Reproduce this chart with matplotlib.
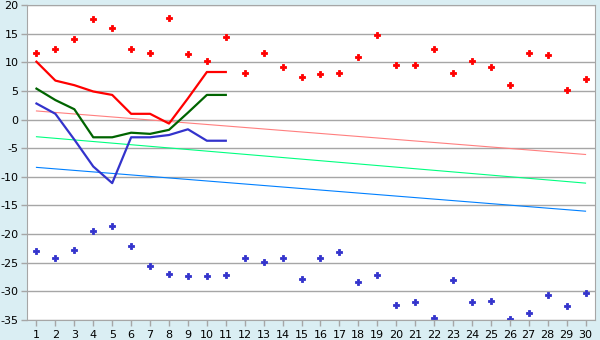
import numpy as np
import matplotlib
matplotlib.use("Agg")
import matplotlib.pyplot as plt

plt.rcParams['axes.unicode_minus'] = False

# categories 1..30
days = list(range(1, 31))

# scatter series (red above, blue below)
red_pts = [11.6, 12.4, 14.0, 17.5, 15.9, 12.3, 11.6, 17.8, 11.4, 10.2,
           14.4, 8.1, 11.7, 9.1, 7.4, 7.9, 8.1, 11.0, 14.7, 9.6,
           9.5, 12.4, 8.2, 10.2, 9.1, 6.0, 11.6, 11.2, 5.1, 7.0]
blue_pts = [-23.0, -24.2, -22.7, -19.5, -18.5, -22.1, -25.5, -27.0, -27.4, -27.4,
            -27.2, -24.1, -24.9, -24.1, -27.9, -24.1, -23.2, -28.4, -27.2, -32.3,
            -31.9, -34.7, -28.1, -31.9, -31.6, -34.9, -33.7, -30.7, -32.6, -30.2]

# lines over the first 11 days
red_line = [10.1, 6.8, 6.0, 4.9, 4.3, 1.0, 1.0, -0.7, 3.7, 8.3, 8.3]
green_line = [5.4, 3.4, 1.8, -3.1, -3.1, -2.3, -2.5, -1.8, 1.2, 4.3, 4.3]
blue_line = [2.8, 1.0, -3.5, -8.2, -11.1, -3.1, -3.1, -2.7, -1.7, -3.7, -3.7]

# straight trend lines: value at day 1 and at day 30
trend_pink = [1.5, -6.1]
trend_green = [-3.0, -11.1]
trend_blue = [-8.35, -16.0]

bg = "#daeef3"
fig = plt.figure(figsize=(6, 3.4), dpi=100, facecolor=bg)
ax = fig.add_axes([27/600, 20/340, 568/600, 315/340])
ax.set_facecolor("white")

ax.set_ylim(-35, 20)
ax.set_xlim(0.5, 30.5)
ax.set_yticks(np.arange(-35, 21, 5))
ax.set_xticks(days)
ax.grid(axis="y", color="#a6a6a6", linewidth=1)
ax.set_axisbelow(True)

ends = [days[0], days[-1]]
ax.plot(ends, trend_pink, color="#ff7f7f", lw=0.8)
ax.plot(ends, trend_green, color="#00ff80", lw=0.8)
ax.plot(ends, trend_blue, color="#0080ff", lw=0.8)

d11 = days[:11]
ax.plot(d11, red_line, color="#ff0000", lw=1.6)
ax.plot(d11, green_line, color="#006400", lw=1.6)
ax.plot(d11, blue_line, color="#3333cc", lw=1.6)

ax.plot(days, red_pts, ls="none", marker="P", ms=4.2, color="#ff0000", mew=0.6)
ax.plot(days, blue_pts, ls="none", marker="P", ms=4.2, color="#3333cc", mew=0.6)

for s in ax.spines.values():
    s.set_color("#a6a6a6")
ax.tick_params(axis="both", colors="#a6a6a6", labelcolor="black",
               labelsize=8, length=4, width=1)
ax.tick_params(axis="y", pad=2)

fig.savefig("out.png", dpi=100, facecolor=bg)
